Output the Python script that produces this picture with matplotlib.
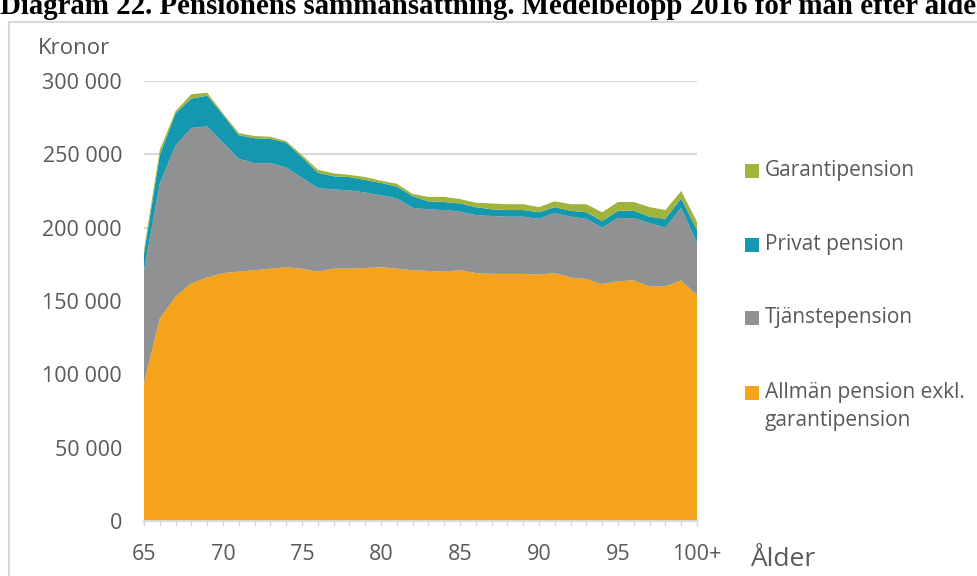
import matplotlib
matplotlib.use("Agg")
import matplotlib.pyplot as plt
from matplotlib.patches import Rectangle

# Ålder 65..100 (100 = "100+"), belopp i tusen kronor
ages = list(range(65, 101))
allman = [94, 138, 153, 162, 166, 169, 170, 171, 172, 173, 172, 170, 172, 172,
          172.5, 173, 172, 171, 170.5, 170, 171, 169, 168.5, 168.5, 168.5, 168,
          169, 166, 165, 161.5, 163.5, 164, 160, 160, 164, 154]
tjanste = [77, 92, 103, 106, 103, 89, 77, 73, 72, 68, 62, 57, 54, 53.5, 51.5,
           49, 48, 42.5, 42, 42, 40, 39.5, 39.5, 39, 39, 38, 41, 41.5, 41, 38.5,
           43, 42.5, 43, 40, 49.5, 35.5]
privat = [11, 19.5, 22, 20, 21, 19, 16, 17, 16.5, 17, 14, 10.5, 9, 9, 8.5, 8.5,
          8, 8, 5.5, 5.5, 5.5, 5.5, 4.5, 4.5, 4.5, 4.5, 4, 4, 4.5, 4.5, 5, 5,
          4.5, 6, 6.5, 9]
garanti = [3, 3.5, 1.5, 3, 2, 1, 1.5, 1.5, 1.5, 1, 1.5, 2, 2, 1.5, 2, 1.5, 2,
           1.5, 3, 3.5, 3, 3, 4, 4, 4, 3.5, 4, 4.5, 5.5, 6, 6, 6, 6.5, 6, 5, 5.5]

series_names = ["Allmän pension exkl.\ngarantipension", "Tjänstepension",
                "Privat pension", "Garantipension"]
colors = ["#F5A31A", "#909193", "#1398AF", "#A0B33A"]

yticks = [0, 50000, 100000, 150000, 200000, 250000, 300000]
xticks = [65, 70, 75, 80, 85, 90, 95, 100]
xticklabels = ["65", "70", "75", "80", "85", "90", "95", "100+"]

TXT = "#595959"
plt.rcParams["font.family"] = ["Open Sans", "DejaVu Sans"]

W, H = 977, 576
fig = plt.figure(figsize=(W / 100, H / 100), dpi=100)
ax = fig.add_axes([144 / W, 1 - 521 / H, (697 - 144) / W, 440 / H])

vals = [[v * 1000 for v in s] for s in (allman, tjanste, privat, garanti)]
polys = ax.stackplot(ages, *vals, colors=colors, linewidth=0, zorder=3)

ax.set_xlim(65, 100)
ax.set_ylim(0, 300000)
ax.set_yticks(yticks)
ax.set_yticklabels([f"{v:,}".replace(",", " ") for v in yticks])
ax.set_xticks(xticks)
ax.set_xticklabels(xticklabels)
ax.set_xticks(range(65, 101), minor=True)
ax.grid(axis="y", color="#D9D9D9", linewidth=1.5, zorder=0)
ax.set_axisbelow(True)
for s in ("top", "right", "left"):
    ax.spines[s].set_visible(False)
ax.spines["bottom"].set_color("#D9D9D9")
ax.spines["bottom"].set_linewidth(1.5)
ax.spines["bottom"].set_zorder(4)
ax.tick_params(axis="y", length=0, pad=15.8, labelsize=15.5, labelcolor=TXT)
ax.tick_params(axis="x", which="both", length=3.6, width=1, color="#D9D9D9",
               labelsize=15.5, labelcolor=TXT, pad=13)

fig.text(38 / W, 1 - 48 / H, "Kronor", fontsize=16, color=TXT, va="center")
fig.text(750 / W, 1 - 559 / H, "Ålder", fontsize=19, color=TXT, va="center")

# legend, drawn by hand so the spacing matches the source
leg_rows = [171, 245, 318, 393]          # row centres in pixels, top to bottom
for name, col, yc in zip(reversed(series_names), reversed(colors), leg_rows):
    fig.patches.append(Rectangle((745 / W, 1 - (yc + 7) / H), 14 / W, 14 / H,
                                 transform=fig.transFigure, facecolor=col,
                                 edgecolor="none"))
    fig.text(765 / W, 1 - (yc - 11) / H, name, fontsize=15, color=TXT,
             va="top", linespacing=1.45)

# chart border + title (cut at the top edge, as in the source)
fig.patches.append(Rectangle((9 / W, -0.1), 1.2, 1.1 - 22 / H,
                             transform=fig.transFigure, fill=False,
                             edgecolor="#D9D9D9", linewidth=1.5))
fig.text(0.0, 1 - 14 / H,
         "Diagram 22. Pensionens sammansättning. Medelbelopp 2016 för män efter ålder",
         fontsize=20.8, fontweight="bold", family="Liberation Serif",
         va="baseline", ha="left")

fig.savefig("out.png", dpi=100)
